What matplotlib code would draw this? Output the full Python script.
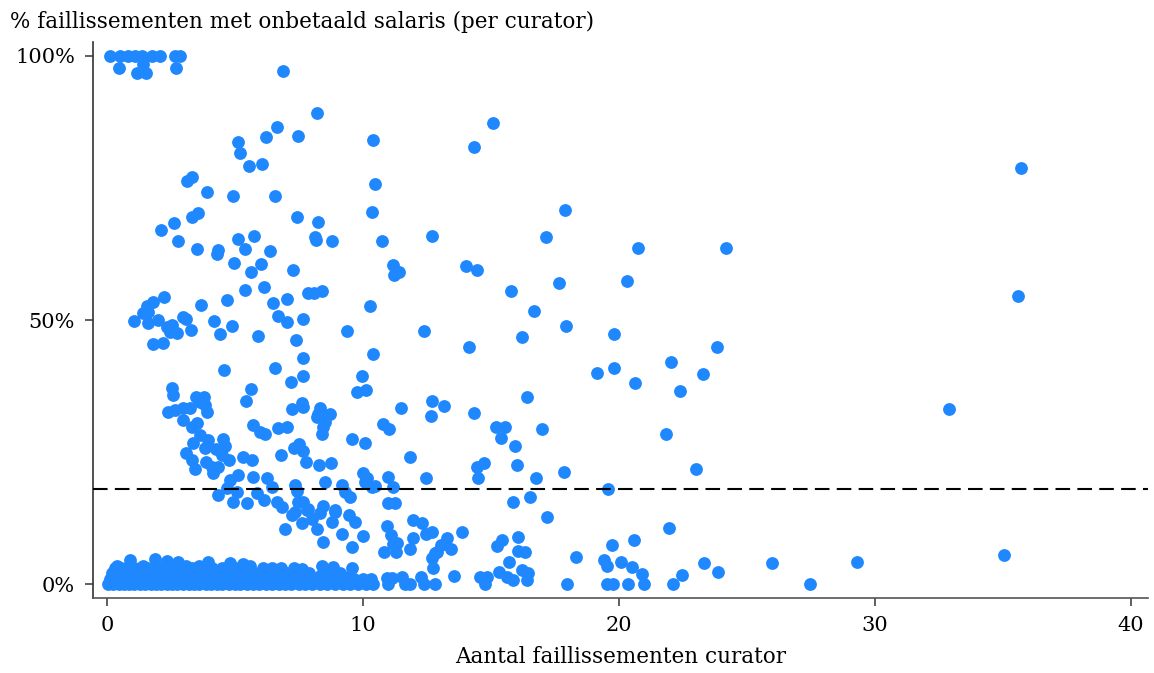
import matplotlib
matplotlib.use("Agg")
import matplotlib.pyplot as plt

# x = aantal faillissementen curator, y = % met onbetaald salaris
# top cluster at 100%
top_x = [0.12, 0.51, 0.82, 1.09, 1.37, 1.76, 2.07, 2.66, 2.85, 0.47, 1.17, 1.52, 1.41, 2.70, 6.88]
top_y = [100, 100, 100, 100, 100, 100, 100, 100, 100, 97.7, 96.8, 96.8, 98.5, 97.7, 97.2]

# upper scatter (approx 50-90%)
upper_x = [5.11, 5.2, 5.56, 6.04, 6.21, 6.63, 3.11, 3.3, 3.89, 4.91, 6.55, 10.47, 10.34, 10.73,
           7.43, 8.25, 8.13, 8.16, 8.8, 3.31, 3.57, 2.62, 2.1, 2.77, 3.53, 4.32, 4.31, 5.13,
           5.74, 5.39, 6.37, 4.96, 6.03, 5.61, 7.28, 5.39, 6.11, 7.86, 8.09, 8.41, 7.02, 6.5,
           10.27, 2.23, 1.81, 1.55, 1.42, 1.61, 15.07, 14.34, 17.89, 12.68, 17.14, 20.73, 24.17,
           11.18, 11.21, 11.42, 14.02, 14.44, 15.78, 17.66, 20.31, 16.69, 35.69, 35.6,
           8.2, 7.46, 10.39]
upper_y = [83.7, 81.6, 79.2, 79.5, 84.6, 86.5, 76.4, 77.1, 74.3, 73.4, 73.5, 75.8, 70.4, 65.0,
           69.6, 68.6, 65.7, 65.2, 65.0, 69.6, 70.2, 68.3, 67.0, 65.0, 63.4, 63.3, 62.5, 65.3,
           65.9, 63.4, 63.0, 60.8, 60.6, 59.0, 59.5, 55.7, 56.2, 55.1, 55.2, 55.5, 54.0, 53.2,
           52.7, 54.4, 53.5, 52.7, 51.3, 51.6, 87.3, 82.8, 70.8, 65.9, 65.7, 63.7, 63.7,
           60.4, 58.5, 59.1, 60.2, 59.5, 55.5, 57.0, 57.3, 51.7, 78.7, 54.6,
           89.2, 84.8, 84.0]

# middle scatter (approx 25-52%)
mid_x = [1.07, 1.61, 2.0, 2.33, 2.53, 2.46, 2.72, 2.98, 3.08, 3.28, 3.66, 4.18, 4.68, 4.41,
         4.87, 5.91, 6.69, 7.02, 7.64, 7.37, 9.39, 7.64, 10.38, 1.81, 2.18,
         12.36, 16.21, 17.92, 19.82, 14.15, 23.84, 22.02, 19.8, 19.15, 23.29, 20.63, 22.38,
         16.39, 11.47, 12.68, 13.16, 12.64, 14.34, 10.79, 11.03, 15.2, 15.55, 15.38, 17.0,
         15.94, 21.82, 32.89,
         4.57, 6.56, 7.67, 7.18, 9.95, 9.75, 10.11, 2.53, 2.57, 3.48, 3.8, 3.63, 3.83, 3.89,
         2.39, 2.66, 2.98, 3.24, 2.98, 3.31, 3.53, 5.61, 5.43, 7.21, 7.63, 7.67, 8.32, 8.25,
         8.71, 8.19, 8.52, 8.45, 8.39, 5.71, 5.98, 6.17, 6.67, 7.04, 9.58, 10.08, 3.63, 3.96,
         3.83, 3.37]
mid_y = [49.9, 49.4, 50.0, 48.7, 49.1, 47.8, 47.5, 50.5, 50.2, 48.2, 52.8, 49.9, 53.7, 47.3,
         48.9, 47.0, 50.8, 49.6, 50.2, 46.2, 47.9, 42.9, 43.5, 45.4, 45.6,
         47.9, 46.7, 48.9, 47.3, 44.9, 44.9, 42.1, 40.9, 39.9, 39.8, 38.1, 36.6,
         35.5, 33.3, 34.7, 33.8, 31.8, 32.4, 30.3, 29.3, 29.8, 29.8, 27.6, 29.4,
         26.1, 28.5, 33.1,
         40.5, 41.0, 39.4, 38.2, 39.4, 36.4, 36.7, 37.1, 35.8, 35.4, 35.4, 34.5, 33.9, 32.6,
         32.5, 33.0, 33.3, 33.3, 31.1, 29.8, 30.5, 36.9, 34.7, 33.1, 34.2, 33.6, 33.3, 32.2,
         32.2, 31.6, 30.7, 29.8, 28.5, 30.2, 28.8, 28.4, 29.5, 29.7, 27.5, 26.8, 28.2, 27.3,
         25.7, 26.8]

# lower scatter (approx 10-25%)
low_x = [3.09, 3.31, 4.54, 4.61, 4.26, 4.48, 4.78, 3.87, 4.09, 4.15, 4.35, 3.44, 5.32, 5.65,
         6.8, 7.3, 7.51, 7.67, 7.76, 8.29, 8.74, 9.99, 10.14, 10.47, 8.52, 9.17, 9.3, 9.49,
         7.34, 7.41, 4.32, 4.8, 5.13, 4.68, 5.07, 4.93, 5.71, 6.24, 6.43, 5.85, 5.46, 6.11,
         6.63, 6.82, 7.67, 7.86, 8.43, 8.91,
         11.84, 14.44, 14.73, 16.0, 17.86, 23.0, 10.96, 11.16, 12.45, 14.48, 16.75, 19.58,
         10.99, 11.25, 15.85, 16.52, 17.2, 11.96, 12.29, 10.95, 21.93,
         10.08, 10.34, 7.47, 7.34, 7.8, 7.21, 7.61, 8.32, 8.0, 8.19, 8.78, 8.91, 6.95, 9.43, 9.69]
low_y = [24.9, 23.5, 27.4, 26.1, 25.5, 24.4, 23.5, 23.2, 22.2, 21.1, 22.1, 21.7, 24.1, 23.5,
         24.4, 25.7, 26.6, 25.2, 23.2, 22.5, 22.9, 21.0, 20.0, 18.6, 19.4, 18.8, 17.5, 16.5,
         18.8, 17.7, 16.9, 19.7, 20.6, 18.1, 17.5, 15.6, 20.3, 20.0, 18.4, 17.2, 15.3, 15.9,
         15.6, 14.6, 15.6, 14.3, 14.8, 14.1,
         24.0, 22.2, 23.0, 22.5, 21.3, 21.7, 20.2, 18.4, 20.0, 20.0, 20.0, 18.0,
         15.4, 15.4, 15.5, 16.5, 12.7, 12.1, 11.5, 11.0, 10.7,
         19.4, 18.4, 15.6, 13.7, 14.0, 13.1, 11.5, 13.4, 12.4, 10.5, 11.8, 13.7, 10.5, 13.1, 11.8]

# near zero, right of the dense band
near_x = [13.86, 12.45, 12.68, 13.29, 11.08, 16.07, 20.59, 11.93, 15.42, 15.22, 19.74, 11.16,
          10.82, 11.29, 11.84, 13.04, 12.88, 13.43, 16.07, 16.33, 12.68, 18.31, 12.72, 15.68,
          19.41, 19.54, 20.07, 20.5, 20.89, 23.32, 23.88, 25.96, 22.45, 15.29, 13.57, 16.2,
          16.46, 14.57, 14.83, 15.61, 15.87, 16.39, 12.25, 11.51, 10.93, 11.12,
          10.99, 11.64, 11.84, 12.36, 12.81, 14.77, 17.96, 19.52, 19.78, 20.36, 20.99, 22.12,
          27.46, 8.45, 9.17, 9.56, 10.01, 11.32, 12.81, 8.38, 8.84, 9.56, 7.6, 35.05, 29.31, 6.45]
near_y = [9.8, 9.5, 9.8, 8.8, 9.3, 9.0, 8.3, 8.8, 8.3, 7.2, 7.4, 7.6,
          6.1, 6.0, 6.6, 7.4, 6.1, 6.6, 6.3, 6.0, 4.9, 5.1, 3.0, 4.2,
          4.5, 3.5, 4.2, 3.2, 1.9, 4.0, 2.3, 3.9, 1.7, 2.3, 1.5, 2.7,
          2.0, 1.4, 1.3, 1.3, 0.8, 0.8, 1.3, 1.4, 1.1, 1.1,
          0, 0, 0, 0, 0, 0, 0, 0, 0, 0, 0, 0,
          0, 8.0, 9.5, 7.1, 9.1, 7.7, 5.8, 3.4, 3.3, 3.0, 2.8, 5.5, 4.1, 3.0]

# dense band at 0-4% for small curators, one list per height
band00_x = [0.05, 0.25, 0.45, 0.65, 0.85, 1.05, 1.3, 1.5, 1.7, 1.9, 2.1, 2.35, 2.55, 2.75, 2.95,
            3.2, 3.4, 3.6, 3.85, 4.05, 4.3, 4.5, 4.75, 5.0, 5.2, 5.45, 5.7, 5.95, 6.2, 6.45,
            6.7, 6.95, 7.2, 7.5, 7.75, 8.0, 8.3, 8.6, 8.9, 9.2, 9.5, 9.8, 10.1, 10.4]
band05_x = [0.15, 0.55, 0.95, 1.35, 1.75, 2.2, 2.6, 3.0, 3.45, 3.9, 4.4, 4.85, 5.35, 5.85,
            6.3, 6.8, 7.3, 7.9, 8.5, 9.0]
band10_x = [0.1, 0.35, 0.6, 0.8, 1.0, 1.2, 1.45, 1.65, 1.85, 2.05, 2.3, 2.5, 2.7, 2.9, 3.1,
            3.35, 3.55, 3.8, 4.0, 4.25, 4.45, 4.7, 4.95, 5.25, 5.5, 5.8, 6.05, 6.35, 6.6, 6.9,
            7.15, 7.45, 7.8, 8.15, 8.5, 8.85, 9.3, 9.65, 10.0, 10.3]
band15_x = [0.25, 0.7, 1.1, 1.5, 1.95, 2.4, 2.8, 3.25, 3.7, 4.2, 4.6, 5.1, 5.6, 6.2, 6.75,
            7.6, 8.3, 9.5]
band20_x = [0.2, 0.45, 0.7, 0.95, 1.15, 1.4, 1.6, 1.8, 2.0, 2.25, 2.45, 2.65, 2.9, 3.15, 3.4,
            3.7, 4.0, 4.35, 4.65, 5.05, 5.4, 5.75, 6.1, 6.55, 7.0, 7.4, 7.9, 8.6, 9.1]
band25_x = [0.35, 0.75, 1.2, 1.65, 2.1, 2.55, 3.0, 3.5, 3.95, 4.4, 4.9, 5.35]
band30_x = [0.3, 0.55, 0.8, 1.05, 1.3, 1.55, 1.75, 2.0, 2.2, 2.45, 2.7, 2.95, 3.3, 3.65, 4.1,
            4.5, 5.0, 5.55, 6.1, 6.8, 7.3]
band35_x = [0.4, 0.85, 1.4, 1.9, 2.4, 3.1, 3.6]
fringe_x = [0.9, 1.88, 2.34, 2.77, 3.95, 4.8, 5.31, 5.59]
fringe_y = [4.5, 4.7, 4.4, 4.2, 4.2, 4.0, 3.8, 3.4]

band_rows = [(band00_x, 0.0), (band05_x, 0.5), (band10_x, 1.0), (band15_x, 1.5),
             (band20_x, 2.0), (band25_x, 2.5), (band30_x, 3.0), (band35_x, 3.5)]

mean_pct = 18.0

xs = top_x + upper_x + mid_x + low_x + near_x + fringe_x
ys = top_y + upper_y + mid_y + low_y + near_y + fringe_y
for row_x, row_y in band_rows:
    xs = xs + row_x
    ys = ys + [row_y] * len(row_x)

plt.rcParams['font.family'] = 'DejaVu Serif'

fig = plt.figure(figsize=(11.54, 6.73), dpi=100)
ax = fig.add_axes([0.0806, 0.1114, 0.9142, 0.8262])

ax.scatter(xs, ys, s=85, color='#1f88fe', linewidths=0, zorder=3)
ax.axhline(mean_pct, color='black', lw=1.5, dashes=(7, 3.5), zorder=4)

ax.set_xlim(-0.55, 40.66)
ax.set_ylim(-2.65, 102.65)
ax.set_xticks([0, 10, 20, 30, 40])
ax.set_yticks([0, 50, 100])
ax.set_yticklabels(['0%', '50%', '100%'])

for side in ['top', 'right']:
    ax.spines[side].set_visible(False)
ax.spines['left'].set_color('#333333')
ax.spines['bottom'].set_color('#555555')
ax.spines['left'].set_linewidth(1.2)
ax.spines['bottom'].set_linewidth(1.2)
ax.tick_params(axis='both', length=6, width=1.1, color='#333333', labelsize=15, pad=7)

ax.set_xlabel('Aantal faillissementen curator', fontsize=15.5, labelpad=8)
fig.text(0.0087, 0.968, '% faillissementen met onbetaald salaris (per curator)',
         fontsize=15.5, ha='left', va='center')

fig.savefig('out.png', dpi=100)
